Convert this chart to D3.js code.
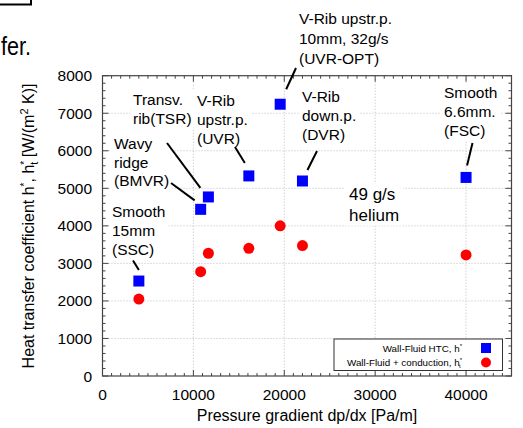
<!DOCTYPE html>
<html>
<meta charset="utf-8">
<style>
body{ margin:0; background:#fff; }
svg{ display:block; font-family:"Liberation Sans", Arial, sans-serif; }
.grid line{ stroke:#bdbdbd; stroke-width:1; stroke-dasharray:1,2; }
.frame{ fill:none; stroke:#444; stroke-width:1.2; }
.tick{ stroke:#444; stroke-width:1; }
.lead{ stroke:#000; stroke-width:2; }
</style>
<body>
<svg width="523" height="428"></svg>
<script src="https://cdn.jsdelivr.net/npm/d3@7"></script>
<script>

// pressure gradient dp/dx [Pa/m]
var cases   = ["SSC", "BMVR", "TSR", "UVR", "UVR-OPT", "DVR", "FSC"];
var dpdx    = [4000, 10800, 11650, 16100, 19550, 22000, 40000];
// wall-fluid HTC h*
var hWall   = [2530, 4440, 4770, 5330, 7240, 5195, 5290];
// wall-fluid + conduction h*_t
var hCond   = [2050, 2780, 3270, 3400, 4000, 3475, 3225];

var xTicks = [0, 10000, 20000, 30000, 40000];
var yTicks = [0, 1000, 2000, 3000, 4000, 5000, 6000, 7000, 8000];

// annotation text per case
var labels = {
  "SSC":     ["Smooth", "15mm", "(SSC)"],
  "BMVR":    ["Wavy", "ridge", "(BMVR)"],
  "TSR":     ["Transv.", "rib(TSR)"],
  "UVR":     ["V-Rib", "upstr.p.", "(UVR)"],
  "UVR-OPT": ["V-Rib upstr.p.", "10mm, 32g/s", "(UVR-OPT)"],
  "DVR":     ["V-Rib", "down.p.", "(DVR)"],
  "FSC":     ["Smooth", "6.6mm.", "(FSC)"]
};

var svg = d3.select("svg");
var x = d3.scaleLinear().domain([0, 45000]).range([102.5, 511.5]);
var y = d3.scaleLinear().domain([0, 8000]).range([376, 75.7]);

// stray text from the slide around the chart
svg.append("text").attr("x", 1).attr("y", 55)
   .attr("textLength", 30).attr("lengthAdjust", "spacingAndGlyphs")
   .style("font-size", "26px").text("fer.");
svg.append("path").attr("d", "M0,4.5H31V0").attr("fill", "none")
   .attr("stroke", "#000").attr("stroke-width", 2);

// grid
var grid = svg.append("g").attr("class", "grid");
grid.selectAll(".gx").data(xTicks.slice(1)).enter().append("line")
    .attr("x1", x).attr("x2", x).attr("y1", y(8000)).attr("y2", y(0));
grid.selectAll(".gy").data(yTicks.slice(1, -1)).enter().append("line")
    .attr("y1", y).attr("y2", y).attr("x1", x(0)).attr("x2", x(45000));

// ticks on all four sides, pointing in
var tk = svg.append("g");
d3.range(0, 45001, 1000).forEach(function(v) {
  var len = v % 10000 === 0 ? 6 : 3;
  tk.append("line").attr("class", "tick").attr("x1", x(v)).attr("x2", x(v))
    .attr("y1", y(0)).attr("y2", y(0) - len);
  tk.append("line").attr("class", "tick").attr("x1", x(v)).attr("x2", x(v))
    .attr("y1", y(8000)).attr("y2", y(8000) + len);
});
d3.range(0, 8001, 200).forEach(function(v) {
  var len = v % 1000 === 0 ? 6 : 3;
  tk.append("line").attr("class", "tick").attr("y1", y(v)).attr("y2", y(v))
    .attr("x1", x(0)).attr("x2", x(0) + len);
  tk.append("line").attr("class", "tick").attr("y1", y(v)).attr("y2", y(v))
    .attr("x1", x(45000)).attr("x2", x(45000) - len);
});

svg.append("rect").attr("class", "frame")
   .attr("x", x(0)).attr("y", y(8000))
   .attr("width", x(45000) - x(0)).attr("height", y(0) - y(8000));

// tick labels
svg.selectAll(".xl").data(xTicks).enter().append("text")
   .attr("x", x).attr("y", 399.5).attr("text-anchor", "middle")
   .style("font-size", "15.5px").text(function(d) { return d; });
svg.selectAll(".yl").data(yTicks).enter().append("text")
   .attr("x", 92).attr("y", function(d) { return y(d) + 5.5; })
   .attr("text-anchor", "end").style("font-size", "15.5px")
   .text(function(d) { return d; });

// axis titles
svg.append("text").attr("x", 307).attr("y", 421).attr("text-anchor", "middle")
   .style("font-size", "16px").text("Pressure gradient dp/dx [Pa/m]");

var yt = svg.append("text").attr("transform", "translate(33.5,226) rotate(-90)")
   .attr("text-anchor", "middle").style("font-size", "16px");
yt.append("tspan").text("Heat transfer coefficient h");
yt.append("tspan").attr("dy", -6).style("font-size", "10px").text("*");
yt.append("tspan").attr("dy", 6).text(", h");
yt.append("tspan").attr("dy", -6).style("font-size", "10px").text("*");
yt.append("tspan").attr("dy", 10).attr("dx", -4).style("font-size", "11px").text("t");
yt.append("tspan").attr("dy", -4).text(" [W/(m");
yt.append("tspan").attr("dy", -6).style("font-size", "11px").text("2");
yt.append("tspan").attr("dy", 6).text(" K)]");

// annotations: label block position, leader start, leader end offset from point
var notes = [
  {c: "SSC",     tx: 112, ty: 216.5, lh: 19,   l0: [133, 260.5], d: [0, -11]},
  {c: "BMVR",    tx: 114, ty: 149,   lh: 18.7, l0: [171, 183],   d: [-6, -9]},
  {c: "TSR",     tx: 133, ty: 105,   lh: 18.5, l0: [167, 143],   d: [-8, -9]},
  {c: "UVR",     tx: 197, ty: 105.5, lh: 19.2, l0: [235, 147],   d: [-4, -13]},
  {c: "UVR-OPT", tx: 299, ty: 24,    lh: 20,   l0: [296, 68],    d: [6, -15]},
  {c: "DVR",     tx: 302, ty: 101.5, lh: 19.2, l0: [317, 151],   d: [5, -11]},
  {c: "FSC",     tx: 444, ty: 97.5,  lh: 19.3, l0: [472.5, 143], d: [1, -12]}
];

var ann = svg.append("g");
notes.forEach(function(n) {
  var i = cases.indexOf(n.c);
  var g = ann.append("g");
  var bg = g.append("rect").attr("fill", "#fff");
  var t = g.append("text").style("font-size", "15.5px");
  labels[n.c].forEach(function(s, k) {
    t.append("tspan").attr("x", n.tx).attr("y", n.ty + k * n.lh).text(s);
  });
  var b = t.node().getBBox();
  bg.attr("x", b.x - 3).attr("y", b.y - 1).attr("width", b.width + 6).attr("height", b.height + 2);
  g.append("line").attr("class", "lead")
   .attr("x1", n.l0[0]).attr("y1", n.l0[1])
   .attr("x2", x(dpdx[i]) + n.d[0]).attr("y2", y(hWall[i]) + n.d[1]);
});

// "49 g/s helium"
var he = svg.append("g");
var heBg = he.append("rect").attr("fill", "#fff");
var heT = he.append("text").style("font-size", "17px");
["49 g/s", "helium"].forEach(function(s, k) {
  heT.append("tspan").attr("x", 349).attr("y", 199.5 + k * 21).text(s);
});
var hb = heT.node().getBBox();
heBg.attr("x", hb.x - 4).attr("y", hb.y - 1).attr("width", hb.width + 8).attr("height", hb.height + 2);

// points
svg.selectAll(".ht").data(hCond).enter().append("circle")
   .attr("cx", function(d, i) { return x(dpdx[i]); })
   .attr("cy", function(d) { return y(d); })
   .attr("r", 5.5).attr("fill", "#ff0000");
svg.selectAll(".hw").data(hWall).enter().append("rect")
   .attr("x", function(d, i) { return x(dpdx[i]) - 5.5; })
   .attr("y", function(d) { return y(d) - 5.5; })
   .attr("width", 11).attr("height", 11).attr("fill", "#0000ff");

// legend
var lg = svg.append("g");
lg.append("rect").attr("x", 334).attr("y", 339).attr("width", 168.5).attr("height", 31.5)
  .attr("fill", "#fff").attr("stroke", "#333").attr("stroke-width", 1);
var l1 = lg.append("text").attr("x", 462).attr("y", 351.5).attr("text-anchor", "end")
  .style("font-size", "9.8px");
l1.append("tspan").text("Wall-Fluid HTC, h");
l1.append("tspan").attr("dy", -4).style("font-size", "6px").text("*");
var l2 = lg.append("text").attr("x", 462).attr("y", 366).attr("text-anchor", "end")
  .style("font-size", "9.8px");
l2.append("tspan").text("Wall-Fluid + conduction, h");
l2.append("tspan").attr("dy", -4).style("font-size", "6px").text("*");
l2.append("tspan").attr("dy", 6).attr("dx", -3).style("font-size", "6px").text("t");
lg.append("rect").attr("x", 481).attr("y", 343).attr("width", 10).attr("height", 10).attr("fill", "#0000ff");
lg.append("circle").attr("cx", 486).attr("cy", 362.5).attr("r", 5).attr("fill", "#ff0000");

</script>
</body>
</html>
